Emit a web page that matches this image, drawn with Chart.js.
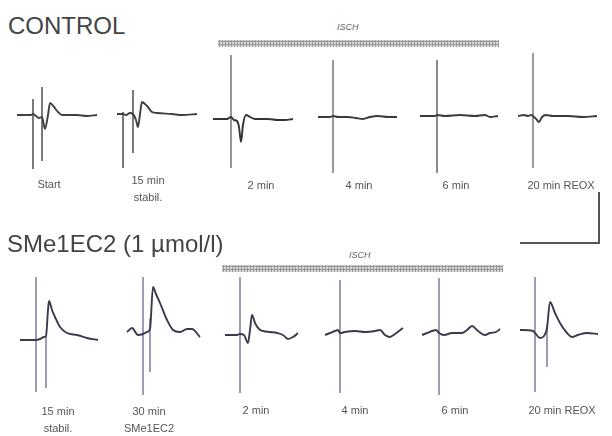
<!DOCTYPE html>
<html><head><meta charset="utf-8">
<script src="https://cdn.jsdelivr.net/npm/chart.js@4"></script>
<style>
html,body{margin:0;padding:0;background:#fff;}
#fig{position:relative;width:612px;height:436px;overflow:hidden;font-family:"Liberation Sans",Arial,sans-serif;}
.panel{position:absolute;}
.title{position:absolute;font-size:24px;color:#444;white-space:nowrap;line-height:1;}
.lab{position:absolute;font-size:11px;color:#555;text-align:center;width:90px;line-height:17px;white-space:pre;}
.isch{position:absolute;font-size:9px;font-style:italic;color:#666;}
.bar{position:absolute;height:7px;background-color:#d6d6d6;background-image:radial-gradient(circle,#8c8c8c 0.9px,transparent 1.3px);background-size:3px 3px;}
.scalebar{position:absolute;border-right:2px solid #555;border-bottom:2px solid #555;}
</style></head>
<body><div id="fig"></div>
<script>
// ---- data: time (ms) vs potential (arbitrary units), baseline = 0 ----
const controlLabels = ['Start', '15 min\nstabil.', '2 min', '4 min', '6 min', '20 min REOX'];
const drugLabels = ['15 min\nstabil.', '30 min\nSMe1EC2', '2 min', '4 min', '6 min', '20 min REOX'];

// control waveforms [t, v]
const ctrlStart = [[0,0],[14,0],[16,1],[19,-1],[22,-3],[25,-2],[28,-14],[31,0],[33,12],[37,8],[41,3],[45,0],[60,0],[70,-1],[80,0]];
const ctrl15 = [[0,0],[6,0],[9,-1],[13,1],[16,0],[19,-6],[21,-13],[23,0],[25,12],[30,8],[35,2],[40,1],[55,0],[65,-1],[80,0]];
const ctrlI2 = [[0,0],[14,0],[18,2],[21,-1],[24,-2],[26,-8],[28,-23],[30,-6],[33,4],[37,2],[42,0],[55,0],[65,-1],[72,-1],[80,0]];
const ctrlI4 = [[0,0],[12,0],[15,1],[20,0],[30,0],[38,-1],[45,-2],[52,0],[60,1],[70,0],[79,0]];
const ctrlI6 = [[0,0],[15,0],[17,1],[25,0],[40,1],[55,0],[65,1],[70,-1],[78,0]];
const ctrlReox = [[0,0],[6,1],[10,0],[13,1],[16,-1],[19,-4],[21,-6],[24,-1],[28,1],[35,0],[50,0],[65,-1],[79,0]];
// control stimulus artifacts [t, top, bottom]
const ctrlStartArt = [[16,16,-54],[25,28,-46]];
const ctrl15Art = [[6,2,-54],[16,24,-39]];
const ctrlI2Art = [[18,64,-49]];
const ctrlI4Art = [[15,57,-56]];
const ctrlI6Art = [[17,56,-57]];
const ctrlReoxArt = [[15,63,-52]];

// SMe1EC2 waveforms [t, v]
const drug15 = [[0,0],[16,0],[20,1],[24,3],[26,4],[28,30],[29,39],[32,30],[35,23],[40,13],[47,7],[57,5],[67,2],[78,0]];
const drug30 = [[0,2],[5,6],[11,-1],[16,0],[20,2],[23,5],[26,47],[29,40],[33,31],[40,14],[46,4],[53,2],[60,5],[65,5],[73,-3]];
const drugI2 = [[0,0],[12,0],[15,1],[19,0],[23,-8],[25,5],[27,20],[30,12],[34,6],[38,4],[45,3],[52,2],[58,0],[63,-4],[68,-2],[73,2]];
const drugI4 = [[0,-2],[5,0],[10,2],[13,3],[15,0],[20,1],[30,2],[40,1],[50,2],[55,3],[60,-2],[65,-4],[70,-1],[78,5]];
const drugI6 = [[0,-2],[5,0],[10,2],[14,3],[17,0],[22,-2],[30,0],[40,0],[45,3],[50,7],[56,2],[63,-2],[68,0],[74,1],[78,4]];
const drugReox = [[0,3],[13,2],[15,0],[20,-5],[24,-3],[27,5],[30,31],[35,20],[40,10],[47,0],[52,-4],[58,-2],[67,0],[78,-1]];
// SMe1EC2 stimulus artifacts [t, top, bottom]
const drug15Art = [[16,63,-52],[26,5,-48]];
const drug30Art = [[16,57,-61],[23,16,-38]];
const drugI2Art = [[15,58,-58]];
const drugI4Art = [[15,53,-60]];
const drugI6Art = [[17,55,-62]];
const drugReoxArt = [[15,56,-59],[27,8,-34]];

// ---- layout (page pixels) ----
const fig = document.getElementById('fig');
const PW = 85, PH = 130, XMIN = -3, YMAX = 65;
const rows = [
  {waves:[ctrlStart,ctrl15,ctrlI2,ctrlI4,ctrlI6,ctrlReox],
   arts:[ctrlStartArt,ctrl15Art,ctrlI2Art,ctrlI4Art,ctrlI6Art,ctrlReoxArt],
   lefts:[17,117,213,318,420,518], bases:[115,114,119,117,116,116],
   waveColors:['#404040','#404040','#333','#3a3a3a','#3a3a3a','#3a3a3a'],
   artColors:['#444','#444','#6a6a6a','#6e6e6e','#5a5a5a','#707070'],
   labels:controlLabels, labX:[49,148,261,359,456,561], labY:[176,172,177,177,177,177]},
  {waves:[drug15,drug30,drugI2,drugI4,drugI6,drugReox],
   arts:[drug15Art,drug30Art,drugI2Art,drugI4Art,drugI6Art,drugReoxArt],
   lefts:[20,127,225,325,422,520], bases:[340,334,335,333,333,333],
   waveColors:['#3a3a4c','#3a3a4c','#3a3a4c','#3a3a4c','#3a3a4c','#3a3a4c'],
   artColors:['#74749a','#74749a','#74749a','#74749a','#74749a','#74749a'],
   labels:drugLabels, labX:[58,149,256,355,455,562], labY:[403,403,402,402,402,402]}
];

function addText(cls, txt, left, top, extra) {
  const d = document.createElement('div');
  d.className = cls; d.textContent = txt;
  d.style.left = left + 'px'; d.style.top = top + 'px';
  if (extra) Object.assign(d.style, extra);
  fig.appendChild(d);
  return d;
}

function makeTrace(left, base, wave, arts, waveColor, artColor) {
  const c = document.createElement('canvas');
  c.width = PW; c.height = PH; c.className = 'panel';
  c.style.left = (left + XMIN) + 'px'; c.style.top = (base - YMAX) + 'px';
  c.style.width = PW + 'px'; c.style.height = PH + 'px';
  fig.appendChild(c);
  const ds = arts.map(a => ({
    data:[{x:a[0], y:a[1]}, {x:a[0], y:a[2]}],
    borderColor:artColor, borderWidth:1.4, pointRadius:0, showLine:true, order:2
  }));
  ds.push({
    data: wave.map(p => ({x:p[0], y:p[1]})),
    borderColor:waveColor, borderWidth:1.9, pointRadius:0, showLine:true,
    cubicInterpolationMode:'monotone', order:1
  });
  new Chart(c, {
    type:'scatter',
    data:{datasets:ds},
    options:{
      responsive:false, animation:false, events:[],
      layout:{padding:0},
      plugins:{legend:{display:false}, tooltip:{enabled:false}},
      scales:{
        x:{type:'linear', min:XMIN, max:XMIN + PW, display:false},
        y:{type:'linear', min:YMAX - PH, max:YMAX, display:false}
      }
    }
  });
}

rows.forEach(r => {
  r.waves.forEach((w, i) => {
    makeTrace(r.lefts[i], r.bases[i], w, r.arts[i], r.waveColors[i], r.artColors[i]);
    addText('lab', r.labels[i], r.labX[i] - 45, r.labY[i]);
  });
});

// titles
addText('title', 'CONTROL', 8, 14);
addText('title', 'SMe1EC2 (1 \u00b5mol/l)', 7, 232);
// ischemia markers
addText('isch', 'ISCH', 337, 22);
addText('isch', 'ISCH', 349, 250);
const b1 = document.createElement('div'); b1.className='bar';
Object.assign(b1.style,{left:'218px',top:'40px',width:'281px'}); fig.appendChild(b1);
const b2 = document.createElement('div'); b2.className='bar';
Object.assign(b2.style,{left:'222px',top:'265px',width:'281px'}); fig.appendChild(b2);
// calibration bar
const sb = document.createElement('div'); sb.className='scalebar';
Object.assign(sb.style,{left:'520px',top:'192px',width:'78px',height:'50px'}); fig.appendChild(sb);
</script>
</body></html>
